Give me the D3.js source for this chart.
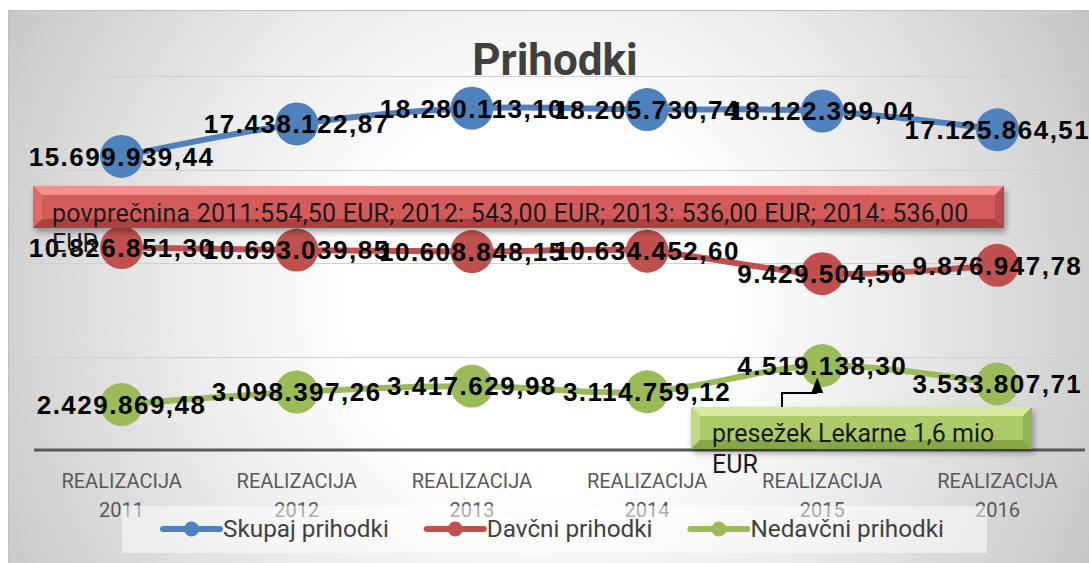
<!DOCTYPE html>
<html lang="sl">
	<head>
		<meta charset="utf-8">
		<title>Prihodki</title>
		<script type="text/javascript" src="https://cdn.jsdelivr.net/npm/d3@7"></script>
		<style type="text/css">
			body { margin: 0; background: #fff; }
			text.lbl { font-family: "Liberation Sans", Arial, sans-serif; font-weight: bold; font-size: 26px; letter-spacing: 1.5px; fill: #000; }
			text.axis { font-family: Roboto, sans-serif; font-size: 20px; fill: #595959; }
			text.leg { font-family: Roboto, sans-serif; font-size: 24.3px; fill: #404040; }
			text.note { font-family: Roboto, sans-serif; font-size: 25px; fill: #1a1a1a; }
		</style>
	</head>
	<body>
		<script type="text/javascript">

			var w = 1089;
			var h = 563;

			//Data
			var categories = ["2011", "2012", "2013", "2014", "2015", "2016"];
			var tickPrefix = "REALIZACIJA";
			var skupaj   = [15699939.44, 17438122.87, 18280113.10, 18205730.74, 18122399.04, 17125864.51];
			var davcni   = [10826851.30, 10693039.85, 10608848.15, 10634452.60, 9429504.56, 9876947.78];
			var nedavcni = [2429869.48, 3098397.26, 3417629.98, 3114759.12, 4519138.30, 3533807.71];
			var seriesNames = ["Skupaj prihodki", "Davčni prihodki", "Nedavčni prihodki"];
			var gridTicks = [0, 5000000, 10000000, 15000000, 20000000];
			var noteRed = ["povprečnina 2011:554,50 EUR; 2012: 543,00 EUR; 2013: 536,00 EUR; 2014: 536,00", "EUR"];
			var noteGreen = ["presežek Lekarne 1,6 mio", "EUR"];

			var colors = ["#4F81BD", "#C0504D", "#9BBB59"];
			var series = [skupaj, davcni, nedavcni];

			var fmt = d3.formatLocale({ decimal: ",", thousands: ".", grouping: [3], currency: ["", ""] }).format(",.2f");

			var xScale = d3.scaleBand()
							.domain(categories)
							.range([34, 1085]);

			var yScale = d3.scaleLinear()
							.domain([0, 20000000])
							.range([450, 76]);

			var cx = function(d, i) { return xScale(categories[i]) + xScale.bandwidth() / 2; };

			var svg = d3.select("body")
						.append("svg")
						.attr("width", w)
						.attr("height", h);

			var defs = svg.append("defs");

			var bg = defs.append("radialGradient")
						.attr("id", "bg")
						.attr("gradientUnits", "userSpaceOnUse")
						.attr("cx", 540).attr("cy", 300).attr("r", 640);
			[[0, "#ffffff"], [0.3, "#ffffff"], [0.55, "#ececec"], [0.85, "#d1d1d1"], [1, "#c2c2c2"]].forEach(function(s) {
				bg.append("stop").attr("offset", s[0]).attr("stop-color", s[1]);
			});

			defs.append("filter")
				.attr("id", "shadow")
				.attr("x", "-10%").attr("y", "-30%").attr("width", "120%").attr("height", "170%")
				.append("feDropShadow")
				.attr("dx", 2).attr("dy", 4)
				.attr("stdDeviation", 3)
				.attr("flood-color", "#000")
				.attr("flood-opacity", 0.35);

			//Chart area
			svg.append("rect")
				.attr("x", 8.5).attr("y", 10.5)
				.attr("width", 1100).attr("height", 570)
				.attr("fill", "url(#bg)")
				.attr("stroke", "#bfbfbf");

			//Title
			svg.append("text")
				.attr("x", 555).attr("y", 75)
				.attr("text-anchor", "middle")
				.attr("font-family", "Roboto, sans-serif")
				.attr("font-weight", "bold")
				.attr("font-size", "44px")
				.attr("fill", "#404040")
				.text("Prihodki");

			//Gridlines
			svg.selectAll("line.grid")
				.data(gridTicks.slice(1))
				.enter()
				.append("line")
				.attr("class", "grid")
				.attr("x1", 34).attr("x2", 1085)
				.attr("y1", function(d) { return Math.round(yScale(d)) + 0.5; })
				.attr("y2", function(d) { return Math.round(yScale(d)) + 0.5; })
				.attr("stroke", "#d0d0d0")
				.attr("stroke-width", 1);

			svg.append("line")
				.attr("x1", 34).attr("x2", 1085)
				.attr("y1", yScale(0)).attr("y2", yScale(0))
				.attr("stroke", "#595959")
				.attr("stroke-width", 3);

			//Lines and markers
			var line = d3.line()
						.x(function(d, i) { return cx(d, i); })
						.y(function(d) { return yScale(d); })
						.curve(d3.curveCatmullRom.alpha(0));

			series.forEach(function(s, k) {
				svg.append("path")
					.datum(s)
					.attr("d", line)
					.attr("fill", "none")
					.attr("stroke", colors[k])
					.attr("stroke-width", 6);

				svg.selectAll("circle.s" + k)
					.data(s)
					.enter()
					.append("circle")
					.attr("class", "s" + k)
					.attr("cx", cx)
					.attr("cy", function(d) { return yScale(d); })
					.attr("r", 21.5)
					.attr("fill", colors[k]);
			});

			//Data labels
			series.forEach(function(s, k) {
				svg.selectAll("text.l" + k)
					.data(s)
					.enter()
					.append("text")
					.attr("class", "lbl l" + k)
					.attr("x", cx)
					.attr("y", function(d) { return yScale(d); })
					.attr("dy", "0.36em")
					.attr("text-anchor", "middle")
					.text(function(d) { return fmt(d); });
			});

			//Category labels
			var ticks = svg.selectAll("g.tick")
							.data(categories)
							.enter()
							.append("g")
							.attr("class", "tick")
							.attr("transform", function(d) { return "translate(" + (xScale(d) + xScale.bandwidth() / 2) + ",0)"; });
			ticks.append("text")
				.attr("class", "axis")
				.attr("y", 488)
				.attr("text-anchor", "middle")
				.text(tickPrefix);
			ticks.append("text")
				.attr("class", "axis")
				.attr("y", 517)
				.attr("text-anchor", "middle")
				.text(function(d) { return d; });

			//Legend
			svg.append("rect")
				.attr("x", 122).attr("y", 506)
				.attr("width", 865).attr("height", 47)
				.attr("fill", "#ffffff")
				.attr("fill-opacity", 0.5);

			var lx = 163;
			seriesNames.forEach(function(name, k) {
				var g = svg.append("g").attr("transform", "translate(" + lx + ",529)");
				g.append("line")
					.attr("x1", 0).attr("x2", 57)
					.attr("stroke", colors[k])
					.attr("stroke-width", 6)
					.attr("stroke-linecap", "round");
				g.append("circle")
					.attr("cx", 28.5).attr("r", 7.5)
					.attr("fill", colors[k]);
				var t = g.append("text")
					.attr("class", "leg")
					.attr("x", 60).attr("y", 8)
					.text(name);
				lx += 60 + t.node().getComputedTextLength() + 38;
			});

			//Callouts
			function callout(x, y, cw, ch, c) {
				var b = 9;
				var g = svg.append("g");
				var sh = g.append("g").attr("filter", "url(#shadow)");
				sh.append("rect").attr("x", x).attr("y", y).attr("width", cw).attr("height", ch).attr("fill", c[2]);
				g.append("polygon").attr("points", [[x, y], [x + cw, y], [x + cw - b, y + b], [x + b, y + b]].join(" ")).attr("fill", c[0]);
				g.append("polygon").attr("points", [[x, y], [x + b, y + b], [x + b, y + ch - b], [x, y + ch]].join(" ")).attr("fill", c[1]);
				g.append("polygon").attr("points", [[x + cw, y], [x + cw, y + ch], [x + cw - b, y + ch - b], [x + cw - b, y + b]].join(" ")).attr("fill", c[3]);
				g.append("polygon").attr("points", [[x, y + ch], [x + b, y + ch - b], [x + cw - b, y + ch - b], [x + cw, y + ch]].join(" ")).attr("fill", c[4]);
				return g;
			}

			var red = callout(33, 186, 971, 42, ["#f6908e", "#e06c69", "#d35c5a", "#bb4946", "#ad413f"]);
			red.selectAll("text")
				.data(noteRed)
				.enter()
				.append("text")
				.attr("class", "note")
				.attr("x", 52)
				.attr("y", function(d, i) { return 222 + i * 30; })
				.attr("letter-spacing", function(d, i) { return i === 0 ? "0.2px" : "0px"; })
				.text(function(d) { return d; });

			//connector to 2015 Nedavcni
			var px = cx(null, 4), py = yScale(nedavcni[4]);
			svg.append("path")
				.attr("d", "M782,409V393H" + (px - 5))
				.attr("fill", "none")
				.attr("stroke", "#000")
				.attr("stroke-width", 2);
			svg.append("path")
				.attr("d", "M" + (px - 11) + ",393L" + (px - 5) + "," + (py + 12) + "L" + (px + 1) + ",393Z")
				.attr("fill", "#000");

			var green = callout(691, 407, 341, 42, ["#d7eaa0", "#c0d880", "#adcb68", "#94b352", "#87a648"]);
			green.selectAll("text")
				.data(noteGreen)
				.enter()
				.append("text")
				.attr("class", "note")
				.attr("x", 712)
				.attr("y", function(d, i) { return 442 + i * 31; })
				.attr("font-size", "24.5px")
				.text(function(d) { return d; });

		</script>
	</body>
</html>
